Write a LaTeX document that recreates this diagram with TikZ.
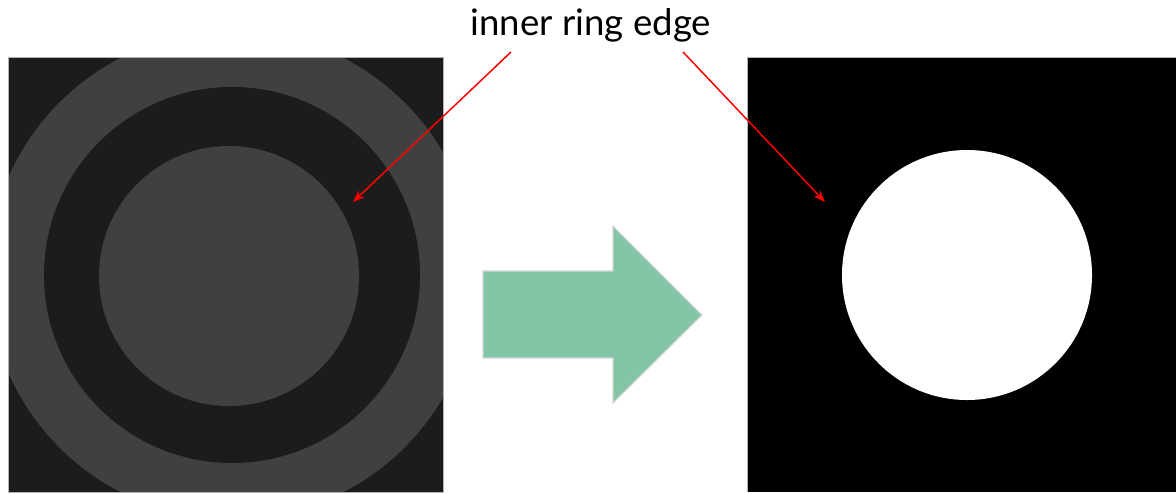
\documentclass[tikz,border=0pt]{standalone}
\usepackage{fontspec}
\setmainfont{Lato}
\usepackage{tikz}
\usetikzlibrary{arrows.meta}
\definecolor{ringdark}{HTML}{1C1C1C}
\definecolor{ringgray}{HTML}{404040}
\definecolor{stepgreen}{HTML}{83C5A6}
\definecolor{stepedge}{HTML}{D6D6D6}

\begin{document}
\begin{tikzpicture}[x=0.5pt, y=-0.5pt, >=Stealth]

\useasboundingbox (0,0) rectangle (1176,493);

% Imatge original (anells)
\begin{scope}
  \clip (8,57) rectangle (443,492);
  \fill[ringdark] (8,57) rectangle (443,492);
  \fill[ringgray] (232,275) circle[radius=122pt];
  \fill[ringdark] (232,275) circle[radius=94pt];
  \fill[ringgray] (229,276) circle[radius=65pt];
\end{scope}
\draw[
    gray!60,
    line width=0.5pt
] (8,57) rectangle (443,492);

% Fletxa verda
\draw[
    fill=stepgreen,
    draw=stepedge,
    line width=0.6pt
] (483,271) -- (613,271) -- (613,226) -- (702,315)
  -- (613,403) -- (613,358) -- (483,358) -- cycle;

% Imatge binaria
\fill[black] (747,57) rectangle (1176,492);
\fill[white] (967,275) circle[radius=62.5pt];
\draw[
    gray!60,
    line width=0.5pt
] (1176,57) -- (747,57) -- (747,492);

% Etiqueta
\node[anchor=base, inner sep=0pt] (lbl) at (591,35)
    {\fontsize{18.3}{22}\selectfont inner ring edge};

\coordinate (startL) at (511,52);
\coordinate (startR) at (683,52);
\coordinate (edgeL) at (353,202);
\coordinate (edgeR) at (825,202);

% Fletxes vermelles
\draw[
    ->,
    red,
    line width=0.75pt,
    arrows={-Stealth[length=6pt, width=4.5pt]}
] (startL) -- (edgeL);

\draw[
    ->,
    red,
    line width=0.75pt,
    arrows={-Stealth[length=6pt, width=4.5pt]}
] (startR) -- (edgeR);

\end{tikzpicture}
\end{document}
